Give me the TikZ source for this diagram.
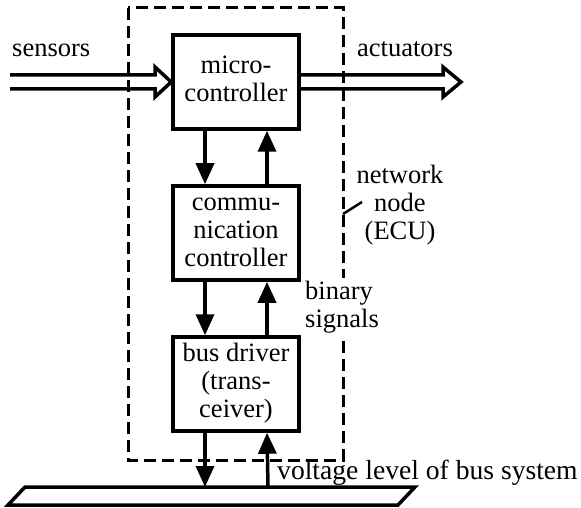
\documentclass[tikz,border=0pt]{standalone}
\usepackage{fontspec}
\setmainfont{Liberation Serif}
\usetikzlibrary{arrows.meta}
\begin{document}
\begin{tikzpicture}[x=1pt,y=-1pt,
  every node/.style={font=\fontsize{26.5}{28}\selectfont, inner sep=0pt},
  unit/.style={draw, line width=3.5pt, minimum width=126pt, minimum height=94pt, align=center},
  sig/.style={line width=3.5pt, -{Triangle[length=21pt,width=18pt]}},
  hollow/.style={line width=3.5pt, line join=miter},
  frame/.style={line width=3pt, dash pattern=on 12pt off 6pt},
  lbl/.style={anchor=base west}]
\useasboundingbox (0,0) rectangle (581,508);

% boundary of the network node (ECU)
\draw[frame] (128,8) rectangle (343,460);

% functional blocks of the node
\node[unit] (mc)  at (236,82)  {\strut micro-\\controller\strut};
\node[unit] (cc)  at (236,233) {\strut commu-\\nication\\controller\strut};
\node[unit] (drv) at (236,384) {\strut bus driver\\(trans-\\ceiver)\strut};

% labels
\node[lbl] (sn) at (12,57) {sensors};
\node[lbl] (ac) at (357,57) {actuators};
\node[align=center] (ecu) at (400,206) {\strut network\\node\\(ECU)\strut};
\node[fill=white, align=left, anchor=west, inner sep=2pt] (bs) at (303,308) {\strut binary\\signals\strut};
\node[lbl, font=\fontsize{27.6}{30}\selectfont] (vl) at (277,479) {voltage level of bus system};

% leader from the frame to its label
\coordinate (lf) at (343,214);
\coordinate (lt) at (362,202);
\draw[line width=2.5pt] (lf) -- (lt);

% sensor and actuator data (hollow arrows)
\draw[hollow] (10,75) -- (155,75) -- (155,67) -- (mc.west) -- (155,97) -- (155,89) -- (10,89);
\draw[hollow] ([yshift=7pt]mc.east) -- (443,75) -- (443,67) -- (461,82) -- (443,97) -- (443,89) -- ([yshift=-7pt]mc.east);

% bus line
\draw[line width=3.5pt, line join=miter] (25,487) -- (415,487) -- (398,505) -- (8,505) -- cycle;
\coordinate (tapd) at (205,487);
\coordinate (tapu) at (268,487);

% binary signals between the blocks
\draw[sig] ([xshift=-31pt]mc.south) -- ([xshift=-31pt]cc.north);
\draw[sig] ([xshift=31pt]cc.north) -- ([xshift=31pt]mc.south);
\draw[sig] ([xshift=-31pt]cc.south) -- ([xshift=-31pt]drv.north);
\draw[sig] ([xshift=31pt]drv.north) -- ([xshift=31pt]cc.south);
\draw[sig] ([xshift=-31pt]drv.south) -- (tapd);
\draw[sig] (tapu) -- ([xshift=31pt]drv.south);
\end{tikzpicture}
\end{document}
